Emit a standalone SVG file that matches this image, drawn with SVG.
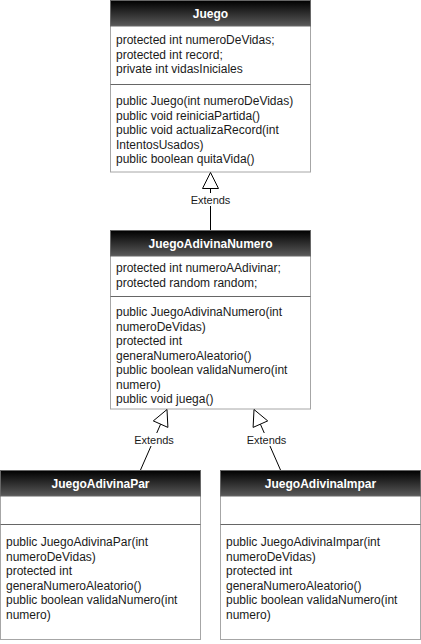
<svg xmlns="http://www.w3.org/2000/svg" width="421" height="644" viewBox="0 0 421 644">
<defs>
<linearGradient id="hdr" x1="0" y1="0" x2="0" y2="1">
<stop offset="0" stop-color="#000000"/>
<stop offset="1" stop-color="#5a5a5a"/>
</linearGradient>
</defs>
<style>
.body{fill:#ffffff;stroke:#a6a6a6;stroke-width:1}
.head{fill:url(#hdr);stroke:#666666;stroke-width:1}
.sep{stroke:#666666;stroke-width:1}
.title{font-family:"Liberation Sans",Arial,sans-serif;font-size:12px;font-weight:bold;fill:#ffffff;text-anchor:middle}
.t{font-family:"Liberation Sans",Arial,sans-serif;font-size:12px;fill:#1a1a1a}
.lbl{font-family:"Liberation Sans",Arial,sans-serif;font-size:11px;fill:#1a1a1a;text-anchor:middle}
.edge{stroke:#000000;stroke-width:1;fill:none}
.tri{fill:#ffffff;stroke:#000000;stroke-width:1}
.lblbg{fill:#ffffff}
</style>

<g id="Juego">
<rect class="body" x="110.5" y="0.5" width="200" height="171.5"/>
<rect class="head" x="110.5" y="0.5" width="200" height="25.5"/>
<text class="title" x="210.5" y="18">Juego</text>
<line class="sep" x1="110.5" y1="84.5" x2="310.5" y2="84.5"/>
<text class="t" x="116" y="44">protected int numeroDeVidas;</text>
<text class="t" x="116" y="58.5">protected int record;</text>
<text class="t" x="116" y="73">private int vidasIniciales</text>
<text class="t" x="116" y="105">public Juego(int numeroDeVidas)</text>
<text class="t" x="116" y="119.5">public void reiniciaPartida()</text>
<text class="t" x="116" y="134">public void actualizaRecord(int</text>
<text class="t" x="116" y="148.5">IntentosUsados)</text>
<text class="t" x="116" y="163">public boolean quitaVida()</text>
</g>

<g id="JuegoAdivinaNumero">
<rect class="body" x="110.5" y="230.5" width="200" height="178.5"/>
<rect class="head" x="110.5" y="230.5" width="200" height="25.5"/>
<text class="title" x="210.5" y="248">JuegoAdivinaNumero</text>
<line class="sep" x1="110.5" y1="296.5" x2="310.5" y2="296.5"/>
<text class="t" x="116" y="272">protected int numeroAAdivinar;</text>
<text class="t" x="116" y="286.5">protected random random;</text>
<text class="t" x="116" y="316">public JuegoAdivinaNumero(int</text>
<text class="t" x="116" y="330.5">numeroDeVidas)</text>
<text class="t" x="116" y="345">protected int</text>
<text class="t" x="116" y="359.5">generaNumeroAleatorio()</text>
<text class="t" x="116" y="374">public boolean validaNumero(int</text>
<text class="t" x="116" y="388.5">numero)</text>
<text class="t" x="116" y="403">public void juega()</text>
</g>

<g id="JuegoAdivinaPar">
<rect class="body" x="0.5" y="470.5" width="200" height="169"/>
<rect class="head" x="0.5" y="470.5" width="200" height="25.5"/>
<text class="title" x="100.5" y="488">JuegoAdivinaPar</text>
<line class="sep" x1="0.5" y1="524.5" x2="200.5" y2="524.5"/>
<text class="t" x="6" y="546">public JuegoAdivinaPar(int</text>
<text class="t" x="6" y="560.5">numeroDeVidas)</text>
<text class="t" x="6" y="575">protected int</text>
<text class="t" x="6" y="589.5">generaNumeroAleatorio()</text>
<text class="t" x="6" y="604">public boolean validaNumero(int</text>
<text class="t" x="6" y="618.5">numero)</text>
</g>

<g id="JuegoAdivinaImpar">
<rect class="body" x="220.5" y="470.5" width="200" height="169"/>
<rect class="head" x="220.5" y="470.5" width="200" height="25.5"/>
<text class="title" x="320.5" y="488">JuegoAdivinaImpar</text>
<line class="sep" x1="220.5" y1="524.5" x2="420.5" y2="524.5"/>
<text class="t" x="226" y="546">public JuegoAdivinaImpar(int</text>
<text class="t" x="226" y="560.5">numeroDeVidas)</text>
<text class="t" x="226" y="575">protected int</text>
<text class="t" x="226" y="589.5">generaNumeroAleatorio()</text>
<text class="t" x="226" y="604">public boolean validaNumero(int</text>
<text class="t" x="226" y="618.5">numero)</text>
</g>

<g id="connectors">
<line class="edge" x1="210.5" y1="230" x2="210.5" y2="188"/>
<polygon class="tri" points="210.5,172.5 202.5,188.5 218.5,188.5"/>
<rect class="lblbg" x="190" y="193" width="41" height="13"/>
<text class="lbl" x="210.5" y="204">Extends</text>

<line class="edge" x1="140.5" y1="470" x2="160.6" y2="424.2"/>
<polygon class="tri" points="167,409.5 167.9,427.4 153.3,420.9"/>
<rect class="lblbg" x="134" y="433" width="41" height="13"/>
<text class="lbl" x="154" y="444">Extends</text>

<line class="edge" x1="280.5" y1="470" x2="260.4" y2="424.2"/>
<polygon class="tri" points="254,409.5 253.1,427.4 267.7,420.9"/>
<rect class="lblbg" x="246" y="433" width="41" height="13"/>
<text class="lbl" x="266.5" y="444">Extends</text>
</g>
</svg>
